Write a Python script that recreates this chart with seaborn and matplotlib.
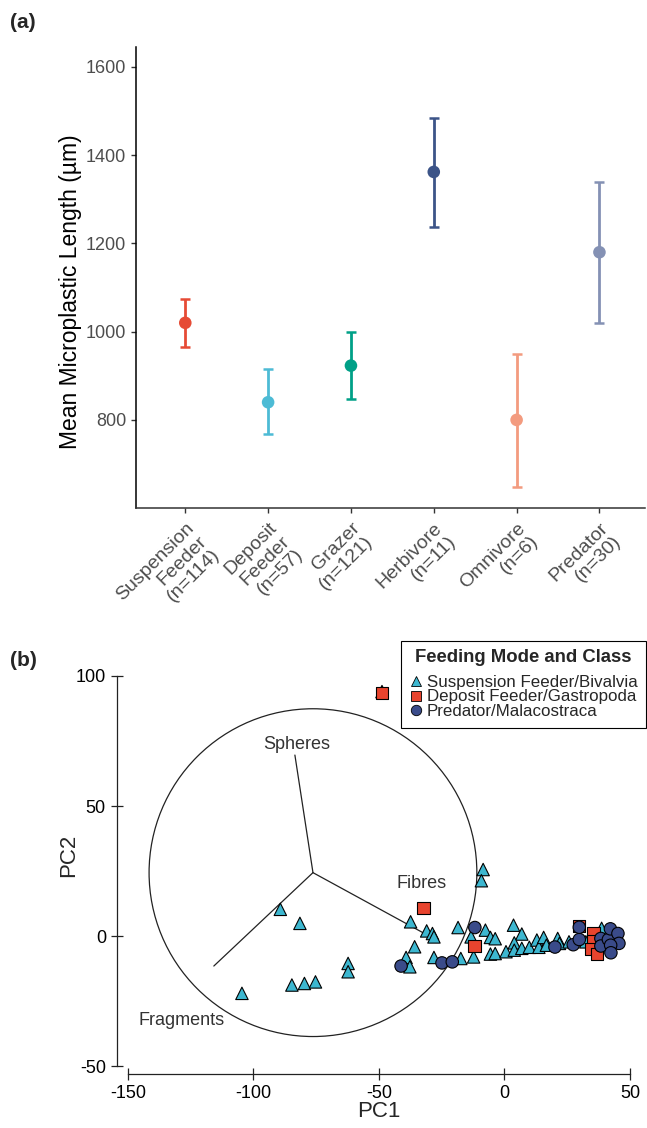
import numpy as np
import pandas as pd
import seaborn as sns
import matplotlib
matplotlib.use("Agg")
import matplotlib.pyplot as plt
from matplotlib.patches import Ellipse

# ------------------------------------------------
# Panel (a): mean microplastic length by feeding mode
# ------------------------------------------------
mode_labels = ["Suspension\nFeeder\n(n=114)", "Deposit\nFeeder\n(n=57)", "Grazer\n(n=121)",
               "Herbivore\n(n=11)", "Omnivore\n(n=6)", "Predator\n(n=30)"]
mean_length = [1020, 840, 923, 1362, 800, 1180]
ci_low = [966, 767, 847, 1238, 648, 1020]
ci_high = [1074, 915, 1000, 1485, 950, 1340]
mode_colours = ["#E64B35", "#4DBBD5", "#00A087", "#3C5488", "#F39B7F", "#8491B4"]

# ------------------------------------------------
# Panel (b): PCA scores by feeding mode / class
# ------------------------------------------------
groups = ["Suspension Feeder/Bivalvia", "Deposit Feeder/Gastropoda", "Predator/Malacostraca"]
group_colours = ["#3DB7D0", "#E8442E", "#3A4B8A"]
group_markers = ["^", "s", "o"]

bivalvia_pc1 = [-48.8, -104.6, -89.3, -81.5, -84.7, -79.7, -75.3, -62.3, -62.3, -37.4, -31.0,
                -28.7, -28.1, -35.8, -39.2, -37.7, -28.1, -17.4, -12.3, -18.5, -13.3, -8.5,
                -9.2, -7.6, -5.6, -3.7, -5.6, -3.7, 3.6, 6.9, 3.9, 0.6, 3.9, 6.9, 9.9, 12.9,
                13.7, 15.6, 16.7, 21.2, 21.9, 25.7, 32.4, 38.7, 36.5, 40.0]
bivalvia_pc2 = [94.0, -22.0, 10.3, 4.9, -18.8, -18.2, -17.6, -10.5, -13.7, 5.5, 2.0,
                1.0, -0.3, -4.1, -8.2, -11.8, -8.2, -8.6, -8.0, 3.3, -0.3, 25.6,
                21.3, 2.3, -0.5, -1.0, -6.9, -6.7, 4.2, 0.8, -2.6, -6.0, -5.4, -4.7, -4.3, -1.5,
                -4.3, -0.5, -3.5, -0.9, -2.8, -2.2, -2.2, 3.0, 0.5, -2.0]
gastropoda_pc1 = [-48.8, -32.3, -12.0, 29.8, 35.5, 35.5, 34.7, 36.8]
gastropoda_pc2 = [93.5, 10.7, -3.7, 3.8, 1.3, -1.9, -5.0, -6.8]
malacostraca_pc1 = [-41.2, -24.9, -20.8, -11.8, 20.1, 27.4, 29.8, 29.8, 38.4, 38.4, 41.4,
                    42.2, 45.2, 45.6, 42.3, 42.4]
malacostraca_pc2 = [-11.5, -10.3, -9.9, 3.3, -4.2, -3.3, -1.3, 3.4, -0.9, -3.8, -1.3,
                    2.8, 1.0, -2.8, -3.5, -6.4]

# biplot loadings (correlation circle)
loading_names = ["Spheres", "Fibres", "Fragments"]
loading_end_pc1 = [-83.5, -27.7, -115.8]
loading_end_pc2 = [69.6, -1.2, -11.5]
loading_label_pc1 = [-82.7, -33.1, -128.8]
loading_label_pc2 = [73.5, 20.4, -32.3]
biplot_centre = (-76.3, 24.4)
biplot_radius = 63.0

# ------------------------------------------------
# Style
# ------------------------------------------------
sns.set_theme(style="ticks")
plt.rcParams["font.family"] = ["Liberation Sans", "DejaVu Sans"]
plt.rcParams["axes.unicode_minus"] = False

fig = plt.figure(figsize=(6.47, 11.28), dpi=100)
ax1 = fig.add_axes([0.2102, 0.5499, 0.7867, 0.4084])
ax2 = fig.add_axes([0.1978, 0.0548, 0.7759, 0.3736])

# ------------------------------------------------
# Panel (a)
# ------------------------------------------------
df_a = pd.DataFrame({"mode": mode_labels, "length": mean_length})
sns.scatterplot(data=df_a, x="mode", y="length", hue="mode", palette=mode_colours,
                s=82, linewidth=0, legend=False, ax=ax1, zorder=3)
for lab, m, lo, hi, c in zip(mode_labels, mean_length, ci_low, ci_high, mode_colours):
    ax1.errorbar([lab], [m], yerr=[[m - lo], [hi - m]], color=c, lw=2.0,
                 capsize=3.3, capthick=1.8, zorder=2)

ax1.set_xlim(-0.595, 5.55)
ax1.set_ylim(601, 1645)
ax1.set_yticks([800, 1000, 1200, 1400, 1600])
for side in ["top", "right"]:
    ax1.spines[side].set_visible(False)
ax1.spines["left"].set_color("black")
ax1.spines["bottom"].set_color("#333333")
ax1.spines["left"].set_linewidth(1.1)
ax1.spines["bottom"].set_linewidth(1.1)
ax1.tick_params(axis="both", colors="#333333", labelcolor="#4D4D4D", labelsize=13,
                length=3.5, width=1)
ax1.tick_params(axis="x", pad=5, labelsize=14)
for lbl in ax1.get_xticklabels():
    lbl.set_rotation(45)
    lbl.set_ha("right")
    lbl.set_va("top")
    lbl.set_rotation_mode("anchor")
    lbl.set_multialignment("right")
    lbl.set_linespacing(1.1)
ax1.set_xlabel("")
ax1.set_ylabel("Mean Microplastic Length (µm)", fontsize=16.5, color="black")
ax1.yaxis.set_label_coords(-0.107, 0.47)

# ------------------------------------------------
# Panel (b)
# ------------------------------------------------
df_b = pd.concat([
    pd.DataFrame({"PC1": bivalvia_pc1, "PC2": bivalvia_pc2, "group": groups[0]}),
    pd.DataFrame({"PC1": gastropoda_pc1, "PC2": gastropoda_pc2, "group": groups[1]}),
    pd.DataFrame({"PC1": malacostraca_pc1, "PC2": malacostraca_pc2, "group": groups[2]}),
], ignore_index=True)

ax2.set_xlim(-150, 50)
ax2.set_ylim(-50, 112)

# loadings + circle (under the points)
p0 = ax2.transData.transform((0, 0))
p1 = ax2.transData.transform((1, 1))
sx, sy = p1[0] - p0[0], p1[1] - p0[1]
ax2.add_patch(Ellipse(biplot_centre, width=2 * biplot_radius * sy / sx, height=2 * biplot_radius,
                      fill=False, ec="#222222", lw=0.9, zorder=1))
for ex, ey in zip(loading_end_pc1, loading_end_pc2):
    ax2.plot([biplot_centre[0], ex], [biplot_centre[1], ey], color="#222222", lw=0.9, zorder=1)
for name, tx, ty in zip(loading_names, loading_label_pc1, loading_label_pc2):
    ax2.text(tx, ty, name, ha="center", va="center", fontsize=13, color="#333333")

sns.scatterplot(data=df_b, x="PC1", y="PC2", hue="group", style="group",
                hue_order=groups, style_order=groups,
                palette=dict(zip(groups, group_colours)),
                markers=dict(zip(groups, group_markers)),
                s=80, edgecolor="black", linewidth=0.8, ax=ax2, zorder=3, clip_on=False)

leg = ax2.get_legend()
handles = list(leg.legend_handles)
labels = [t.get_text() for t in leg.get_texts()]
for h in handles:
    h.set_markeredgecolor("black")
    h.set_markeredgewidth(0.6)
    h.set_markersize(7.5)
leg = ax2.legend(handles, labels, title="Feeding Mode and Class", loc="upper right",
                 bbox_to_anchor=(646 / 647, 1 - 641 / 1128), bbox_transform=fig.transFigure,
                 frameon=True, fancybox=False, edgecolor="black", framealpha=1,
                 fontsize=12.2, title_fontproperties={"weight": "bold", "size": 13.3},
                 handlelength=0.7, handletextpad=0.3, labelspacing=-0.02,
                 borderpad=0.5, borderaxespad=0)
leg.get_frame().set_linewidth(0.8)
leg._legend_box.sep = 6

for side in ["top", "right"]:
    ax2.spines[side].set_visible(False)
ax2.spines["left"].set_position(("outward", 7.9))
ax2.spines["bottom"].set_position(("outward", 5.6))
ax2.spines["left"].set_bounds(-50, 100)
ax2.spines["bottom"].set_bounds(-150, 50)
for side in ["left", "bottom"]:
    ax2.spines[side].set_color("#222222")
    ax2.spines[side].set_linewidth(0.9)
ax2.set_xticks([-150, -100, -50, 0, 50])
ax2.set_yticks([-50, 0, 50, 100])
ax2.tick_params(axis="both", direction="inout", length=8, width=0.9, colors="#222222",
                labelcolor="black", labelsize=13, pad=4)
ax2.set_xlabel("PC1", fontsize=16)
ax2.set_ylabel("PC2", fontsize=16)
ax2.xaxis.set_label_coords(0.5, -0.083)
ax2.yaxis.set_label_coords(-0.098, 0.5)

# panel letters
fig.text(10 / 647, 1 - 22 / 1128, "(a)", fontsize=15, fontweight="bold", va="center")
fig.text(10 / 647, 1 - 660 / 1128, "(b)", fontsize=15, fontweight="bold", va="center")

fig.savefig("out.png", dpi=100)
